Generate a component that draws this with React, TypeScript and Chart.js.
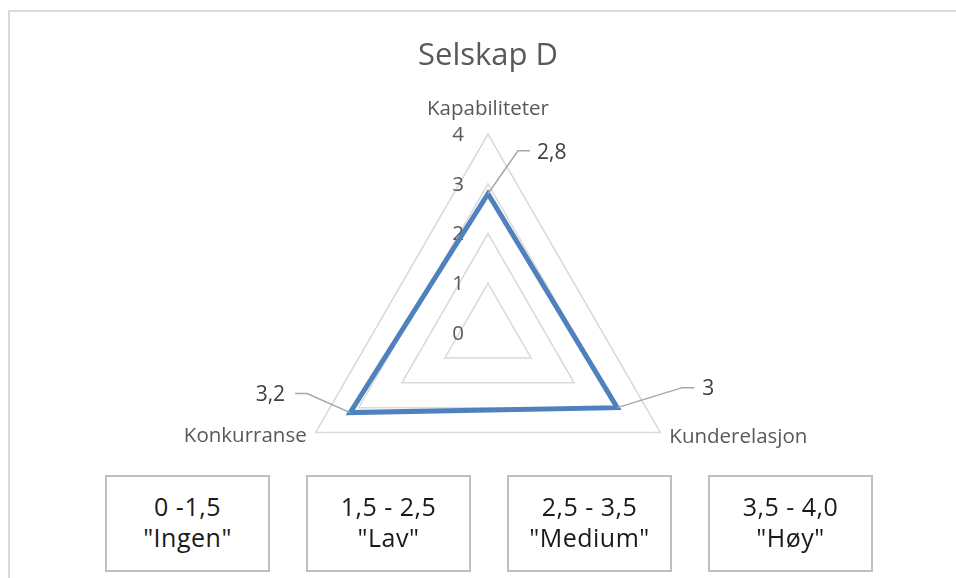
import React, { useEffect, useRef } from "react";
import { Chart, registerables } from "chart.js";

Chart.register(...registerables);

const chartTitle = "Selskap D";
const categories = ["Kapabiliteter", "Kunderelasjon", "Konkurranse"];
const values = [2.8, 3, 3.2];
const scaleMin = 0;
const scaleMax = 4;
const scaleStep = 1;
const rangeLabels = ["0 -1,5", "1,5 - 2,5", "2,5 - 3,5", "3,5 - 4,0"];
const rangeNames = ['"Ingen"', '"Lav"', '"Medium"', '"Høy"'];

const FONT = "'Open Sans', sans-serif";
const fmt = (v: number) => String(v).replace(".", ",");

const ticksPlugin = {
  id: "customTicks",
  beforeDatasetsDraw(chart: any) {
    const ctx = chart.ctx;
    const scale = chart.scales.r;
    ctx.save();
    ctx.font = `20.5px ${FONT}`;
    ctx.fillStyle = "#595959";
    ctx.textAlign = "right";
    ctx.textBaseline = "middle";
    scale.ticks.forEach((t: any) => {
      const p = scale.getPointPositionForValue(0, t.value);
      ctx.fillText(fmt(t.value), p.x - 24, p.y + 1);
    });
    // point labels
    ctx.font = `20.5px ${FONT}`;
    categories.forEach((c, i) => {
      const p = scale.getPointPosition(i, scale.drawingArea);
      if (Math.abs(p.x - scale.xCenter) < 1) {
        ctx.textAlign = "center";
        ctx.fillText(c, p.x, p.y - 25);
      } else if (p.x > scale.xCenter) {
        ctx.textAlign = "left";
        ctx.fillText(c, p.x + 9, p.y + 5);
      } else {
        ctx.textAlign = "right";
        ctx.fillText(c, p.x - 9, p.y + 4);
      }
    });
    ctx.restore();
  },
};

const dataLabelPlugin = {
  id: "dataLabels",
  afterDatasetsDraw(chart: any) {
    const ctx = chart.ctx;
    const scale = chart.scales.r;
    const meta = chart.getDatasetMeta(0);
    ctx.save();
    ctx.font = `21px ${FONT}`;
    ctx.fillStyle = "#404040";
    ctx.strokeStyle = "#a6a6a6";
    ctx.lineWidth = 1.5;
    ctx.textBaseline = "middle";
    meta.data.forEach((el: any, i: number) => {
      const x = el.x;
      const y = el.y;
      let bend: [number, number], end: [number, number], tx: number, ty: number, align: CanvasTextAlign;
      if (Math.abs(x - scale.xCenter) < 1) {
        bend = [x + 30, y - 43];
        end = [x + 42, y - 43];
        tx = x + 49;
        ty = y - 41;
        align = "left";
      } else if (x > scale.xCenter) {
        bend = [x + 65, y - 20];
        end = [x + 77, y - 20];
        tx = x + 85;
        ty = y - 19;
        align = "left";
      } else {
        bend = [x - 43, y - 19];
        end = [x - 55, y - 19];
        tx = x - 65;
        ty = y - 18;
        align = "right";
      }
      ctx.beginPath();
      ctx.moveTo(x, y);
      ctx.lineTo(bend[0], bend[1]);
      ctx.lineTo(end[0], end[1]);
      ctx.stroke();
      ctx.textAlign = align;
      ctx.fillText(fmt(values[i]), tx, ty);
    });
    ctx.restore();
  },
};

function RadarChart() {
  const ref = useRef<HTMLCanvasElement | null>(null);
  useEffect(() => {
    if (!ref.current) return;
    const chart = new Chart(ref.current, {
      type: "radar",
      data: {
        labels: categories,
        datasets: [
          {
            data: values,
            borderColor: "#4f81bd",
            backgroundColor: "rgba(0,0,0,0)",
            borderWidth: 5,
            borderJoinStyle: "miter",
            pointRadius: 0,
            pointHoverRadius: 0,
            fill: false,
          },
        ],
      },
      options: {
        responsive: false,
        animation: false,
        layout: { padding: { left: 88, right: 68, top: 0, bottom: 45 } },
        plugins: {
          legend: { display: false },
          tooltip: { enabled: false },
          title: {
            display: true,
            text: chartTitle,
            color: "#595959",
            font: { size: 31, family: FONT, weight: "normal" },
            padding: { top: 38, bottom: 58.8 },
          },
        },
        scales: {
          r: {
            min: scaleMin,
            max: scaleMax,
            ticks: { stepSize: scaleStep, display: false },
            grid: { color: "#d9d9d9", lineWidth: 1.5 },
            angleLines: { display: false },
            pointLabels: { display: false },
          },
        },
      },
      plugins: [ticksPlugin, dataLabelPlugin],
    } as any);
    return () => chart.destroy();
  }, []);
  return <canvas ref={ref} width={956} height={578} style={{ position: "absolute", left: 0, top: 0 }} />;
}

export default function App() {
  return (
    <div style={{ position: "absolute", left: 0, top: 0, width: 956, height: 578, overflow: "hidden", background: "#fff" }}>
      <div
        style={{
          position: "absolute",
          left: 8,
          top: 10,
          width: 1000,
          height: 700,
          borderLeft: "2px solid #d9d9d9",
          borderTop: "2px solid #d9d9d9",
        }}
      />
      <RadarChart />
      {rangeLabels.map((r, i) => (
        <div
          key={r}
          style={{
            position: "absolute",
            left: 105 + i * 201,
            top: 475,
            width: 165,
            height: 97,
            boxSizing: "border-box",
            border: "2px solid #bfbfbf",
            background: "#fff",
            display: "flex",
            flexDirection: "column",
            alignItems: "center",
            justifyContent: "center",
            fontFamily: FONT,
            fontSize: 25,
            lineHeight: "31px",
            color: "#1a1a1a",
            letterSpacing: "0.5px",
            paddingBottom: 4,
          }}
        >
          <div>{r}</div>
          <div>{rangeNames[i]}</div>
        </div>
      ))}
    </div>
  );
}
